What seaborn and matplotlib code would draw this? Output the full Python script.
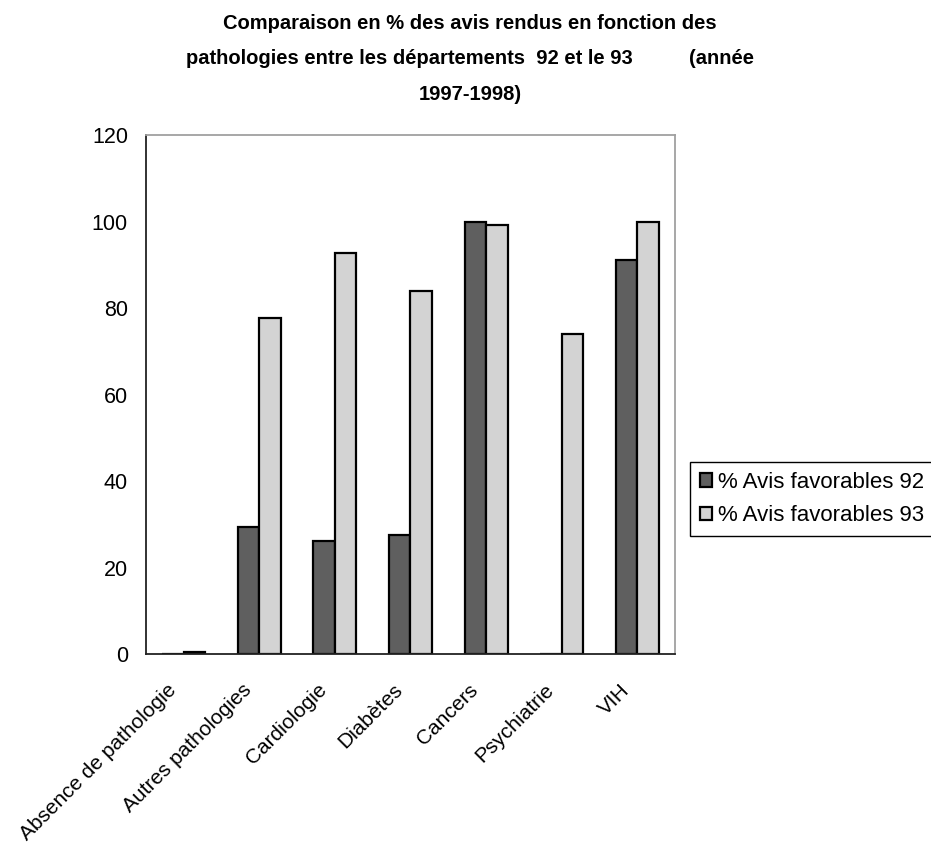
import numpy as np
import pandas as pd
import matplotlib
matplotlib.use("Agg")
import matplotlib.pyplot as plt
from matplotlib.transforms import ScaledTranslation
import seaborn as sns

# Share of favourable opinions (%) by pathology, Hauts-de-Seine (92) vs Seine-Saint-Denis (93)
pathologies = ["Absence de pathologie", "Autres pathologies", "Cardiologie",
               "Diabètes", "Cancers", "Psychiatrie", "VIH"]
favorables_92 = [0.0, 29.4, 26.1, 27.7, 100.0, 0.0, 91.1]
favorables_93 = [0.6, 77.7, 92.9, 84.0, 99.2, 74.0, 100.0]
series_names = ["% Avis favorables 92", "% Avis favorables 93"]
y_ticks = [0, 20, 40, 60, 80, 100, 120]

df = pd.DataFrame({
    "pathologie": pathologies * 2,
    "serie": [series_names[0]] * len(pathologies) + [series_names[1]] * len(pathologies),
    "valeur": favorables_92 + favorables_93,
})

sns.set_theme(style="white")
plt.rcParams["font.family"] = ["Liberation Sans", "DejaVu Sans"]
plt.rcParams["text.color"] = "black"
plt.rcParams["xtick.color"] = "black"
plt.rcParams["ytick.color"] = "black"

fig = plt.figure(figsize=(9.31, 8.43), dpi=100)
ax = fig.add_axes([0.1568, 0.2238, 0.5682, 0.6155])

sns.barplot(data=df, x="pathologie", y="valeur", hue="serie", order=pathologies,
            hue_order=series_names,
            palette={series_names[0]: "#5f5f5f", series_names[1]: "#d3d3d3"},
            width=0.57, edgecolor="black", linewidth=1.6, saturation=1,
            errorbar=None, ax=ax)

ax.set_ylim(0, 120)
ax.set_xlim(-0.5, len(pathologies) - 0.5)
ax.set_yticks(y_ticks)
ax.set_yticklabels([str(v) for v in y_ticks], fontsize=15.5, color="black")
ax.set_xlabel("")
ax.set_ylabel("")

# category separators as minor ticks, labels at the centres
ax.set_xticks(np.arange(-0.5, len(pathologies), 1.0), minor=True)
ax.tick_params(axis="x", which="minor", direction="inout", length=10, width=1, color="#333333")
ax.tick_params(axis="x", which="major", length=0, pad=0)
ax.tick_params(axis="y", direction="out", length=7, width=1, color="#333333", pad=6)
ax.set_xticks(range(len(pathologies)))
ax.set_xticklabels(pathologies, rotation=45, ha="right", va="top", fontsize=15,
                   color="black")
offset = ScaledTranslation(-0.04, -0.26, fig.dpi_scale_trans)
for lbl in ax.get_xticklabels():
    lbl.set_transform(lbl.get_transform() + offset)

for side in ["left", "bottom"]:
    ax.spines[side].set_color("#222222")
    ax.spines[side].set_linewidth(1.3)
for side in ["top", "right"]:
    ax.spines[side].set_visible(True)
    ax.spines[side].set_color("#a0a0a0")
    ax.spines[side].set_linewidth(1.3)

handles, labels = ax.get_legend_handles_labels()
ax.get_legend().remove()
leg = fig.legend(handles, labels, loc="upper left",
                 bbox_to_anchor=(690 / 931, 1 - 462 / 843),
                 fontsize=16, frameon=True, fancybox=False, framealpha=1,
                 edgecolor="black", handlelength=0.55, handleheight=0.55,
                 handletextpad=0.25, borderpad=0.45, labelspacing=0.55,
                 borderaxespad=0)
leg.get_frame().set_linewidth(1.0)
for t in leg.get_texts():
    t.set_color("black")

fig.text(0.505, 1 - 14 / 843,
         "Comparaison en % des avis rendus en fonction des\n"
         "pathologies entre les départements  92 et le 93          (année\n"
         "1997-1998)",
         ha="center", va="top", fontsize=14.5, fontweight="bold", color="black",
         linespacing=2.1, transform=fig.transFigure)

fig.savefig("out.png", dpi=100, facecolor="white")
